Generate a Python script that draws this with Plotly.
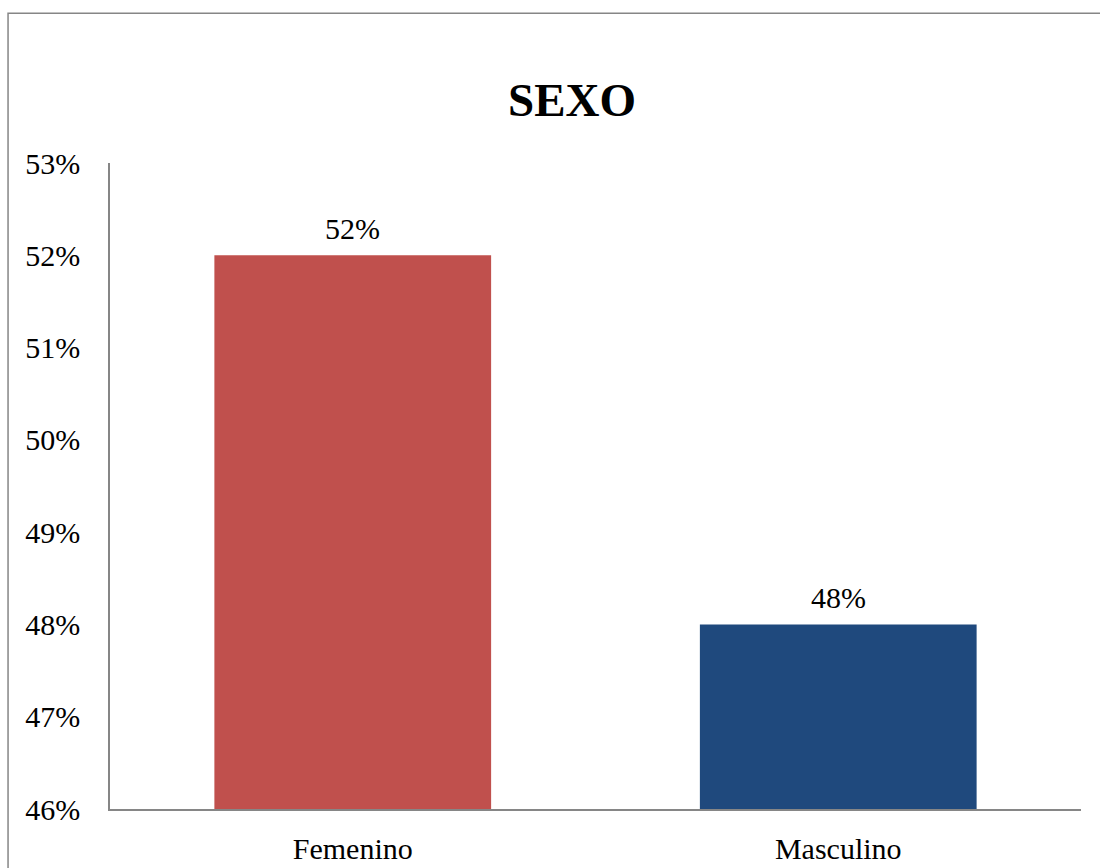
import plotly.graph_objects as go

categories = ["Femenino", "Masculino"]
values = [0.52, 0.48]
labels = ["52%", "48%"]
colors = ["#C0504D", "#1F497D"]

FONT = "Liberation Serif, Times New Roman, serif"

fig = go.Figure()
fig.add_trace(go.Bar(
    x=categories, y=values, marker=dict(color=colors, line=dict(width=0)),
    showlegend=False, hoverinfo="skip",
))

for c, v, t in zip(categories, values, labels):
    fig.add_annotation(x=c, y=v, text=t, showarrow=False, yanchor="bottom",
                       yshift=8, font=dict(family=FONT, size=30, color="#000000"))

fig.add_shape(type="rect", xref="paper", yref="paper",
              x0=-0.105, x1=1.05, y0=-0.15, y1=1.232,
              line=dict(color="#868686", width=1.5), fillcolor="rgba(0,0,0,0)", layer="below")

fig.update_layout(
    width=1100, height=868,
    margin=dict(l=110, r=19, t=163, b=59, autoexpand=False),
    paper_bgcolor="white", plot_bgcolor="white",
    bargap=0.43,
    title=dict(text="<b>SEXO</b>", x=0.52, xanchor="center", y=1 - 100/868, yanchor="middle",
               yref="container", font=dict(family=FONT, size=47, color="#000000")),
    font=dict(family=FONT, size=30, color="#000000"),
    xaxis=dict(showline=True, linecolor="#868686", linewidth=1.5, showgrid=False,
               ticks="", tickfont=dict(family=FONT, size=30), ticklabelstandoff=12,
               automargin=False, fixedrange=True),
    yaxis=dict(range=[0.46, 0.53], dtick=0.01, tickformat=".0%", showline=True,
               linecolor="#868686", linewidth=1.5, showgrid=False, zeroline=False,
               ticks="", tickfont=dict(family=FONT, size=30), ticklabelstandoff=22,
               automargin=False, fixedrange=True),
)

fig.write_html("out.html")
